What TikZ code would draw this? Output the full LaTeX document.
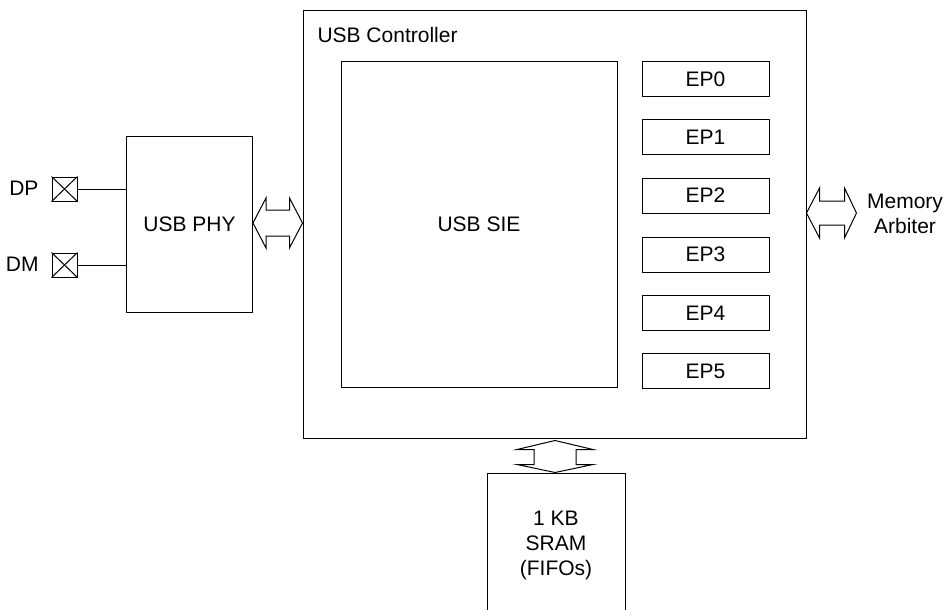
\documentclass[tikz,border=0pt]{standalone}
\usepackage{fontspec}
\setmainfont{Liberation Sans}
\usetikzlibrary{calc}
\begin{document}
\begin{tikzpicture}[x=1pt,y=-1pt,
  line width=1pt,
  every node/.style={font=\fontsize{21}{25}\selectfont, inner sep=0pt},
  blk/.style={draw, rectangle, align=center},
  epbox/.style={blk, minimum width=127, minimum height=35},
  padbox/.style={draw, rectangle, minimum width=25, minimum height=24},
  dbl/.style={draw, line join=miter},
  lbl/.style={align=center}
]
\useasboundingbox (0,0) rectangle (946,610);
\clip (0,0) rectangle (946,610);

% controller
\node[blk, minimum width=503, minimum height=427] (ctrl) at (554.5,224.5) {};
\node[anchor=west] (ctrllbl) at (317,35) {USB Controller};
\node[blk, minimum width=276, minimum height=326] (sie) at (479,224.5) {USB SIE};

% endpoints
\node[epbox] (ep0) at (705.5,79) {EP0};
\node[epbox] (ep1) at (705.5,137) {EP1};
\node[epbox] (ep2) at (705.5,195.5) {EP2};
\node[epbox] (ep3) at (705.5,254.5) {EP3};
\node[epbox] (ep4) at (705.5,313) {EP4};
\node[epbox] (ep5) at (705.5,371) {EP5};

% PHY
\node[blk, minimum width=126, minimum height=176] (phy) at (189.5,224.5) {USB PHY};

% pads
\node[padbox] (dp) at (64.5,189) {};
\node[padbox] (dm) at (64.5,265) {};
\draw (dp.north west) -- (dp.south east) (dp.north east) -- (dp.south west);
\draw (dm.north west) -- (dm.south east) (dm.north east) -- (dm.south west);
\node[anchor=east] (dplbl) at (39,188) {DP};
\node[anchor=east] (dmlbl) at (39,264) {DM};
\draw (dp.east) -- (dp.east -| phy.west);
\draw (dm.east) -- (dm.east -| phy.west);

% SRAM
\node[blk, minimum width=138, minimum height=144] (sram) at (556,545) {1 KB\\SRAM\\(FIFOs)};

% Memory arbiter label
\node[lbl] (mem) at (905,213.5) {Memory\\Arbiter};

% left double arrow PHY <-> controller
\coordinate (la) at ($(phy.east)+(0,-1.5)$);
\coordinate (lb) at ($(ctrl.west)+(0,-1.5)$);
\draw[dbl] (la) -- ($(la)+(13,-25)$) -- ($(la)+(13,-13)$) -- ($(lb)+(-13,-13)$)
  -- ($(lb)+(-13,-25)$) -- (lb) -- ($(lb)+(-13,25)$) -- ($(lb)+(-13,13)$)
  -- ($(la)+(13,13)$) -- ($(la)+(13,25)$) -- cycle;

% right double arrow controller <-> memory arbiter
\coordinate (ra) at ($(ctrl.east)+(0,-11.5)$);
\coordinate (rb) at ($(ra)+(50,0)$);
\draw[dbl] (ra) -- ($(ra)+(13,-25)$) -- ($(ra)+(13,-12)$) -- ($(rb)+(-12,-12)$)
  -- ($(rb)+(-12,-25)$) -- (rb) -- ($(rb)+(-12,25)$) -- ($(rb)+(-12,12)$)
  -- ($(ra)+(13,12)$) -- ($(ra)+(13,25)$) -- cycle;

% bottom double arrow controller <-> SRAM
\coordinate (ba) at ($(ctrl.south)+(0.5,2)$);
\coordinate (bb) at (ba |- sram.north);
\draw[dbl] (ba) -- ($(ba)+(38,9)$) -- ($(ba)+(21,9)$) -- ($(bb)+(21,-8)$)
  -- ($(bb)+(38,-8)$) -- (bb) -- ($(bb)+(-38,-8)$) -- ($(bb)+(-21,-8)$)
  -- ($(ba)+(-21,9)$) -- ($(ba)+(-38,9)$) -- cycle;
\end{tikzpicture}
\end{document}
